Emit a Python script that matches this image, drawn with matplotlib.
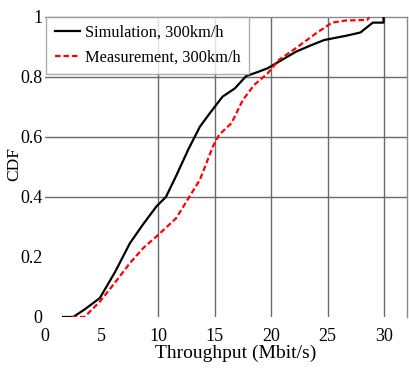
import matplotlib
matplotlib.use("Agg")
import matplotlib.pyplot as plt

plt.rcParams['font.family'] = ['Liberation Serif', 'DejaVu Serif']

sim_x = [1.6, 2.5, 3.5, 4.85, 6.2, 7.5, 8.7, 9.85, 10.7, 11.6, 12.7, 13.7, 14.6, 15.7,
         16.8, 17.8, 18.8, 19.7, 20.7, 22.2, 23.5, 24.7, 26.6, 27.9, 29.0, 29.95, 29.95]
sim_y = [0.0, 0.0, 0.025, 0.063, 0.15, 0.245, 0.31, 0.368, 0.40, 0.47, 0.56, 0.634, 0.68, 0.734,
         0.762, 0.803, 0.816, 0.829, 0.851, 0.884, 0.905, 0.923, 0.937, 0.948, 0.981, 0.981, 1.0]

meas_x = [2.35, 3.5, 4.85, 6.2, 7.5, 8.7, 10.0, 11.6, 12.6, 13.7, 14.85, 15.4, 16.5, 17.5,
          18.5, 19.7, 20.7, 22.2, 24.0, 25.4, 26.6, 28.5, 28.7]
meas_y = [0.0, 0.0, 0.051, 0.115, 0.179, 0.23, 0.273, 0.329, 0.39, 0.457, 0.568, 0.607, 0.646, 0.723,
          0.773, 0.812, 0.857, 0.896, 0.946, 0.981, 0.988, 0.99, 1.0]

x_ticks = [0, 5, 10, 15, 20, 25, 30]
y_ticks = [0, 0.2, 0.4, 0.6, 0.8, 1]
y_tick_labels = ['0', '0.2', '0.4', '0.6', '0.8', '1']
x_grid = [10, 15, 20, 25, 30]
y_grid = [0.4, 0.6, 0.8]

fig = plt.figure(figsize=(4.09, 3.76), dpi=100)
ax = fig.add_axes([0.110, 0.157, 0.8844, 0.798])

for gx in x_grid:
    ax.axvline(gx, color='#6a6a6a', lw=1.0, zorder=1)
for gy in y_grid:
    ax.axhline(gy, color='#6a6a6a', lw=1.0, zorder=1)

ax.plot(sim_x, sim_y, color='black', lw=1.6, label='Simulation, 300km/h', zorder=3)
ax.plot(meas_x, meas_y, color='#ff0000', lw=1.6, ls=(0, (2.5, 1.3)),
        label='Measurement, 300km/h', zorder=3)

ax.set_xlim(0, 32)
ax.set_ylim(0, 1)
ax.set_xticks(x_ticks)
ax.set_xticklabels([str(v) for v in x_ticks])
ax.set_yticks(y_ticks)
ax.set_yticklabels(y_tick_labels)
ax.tick_params(axis='both', length=0, labelsize=13, colors='black')
ax.tick_params(axis='x', pad=8)
ax.tick_params(axis='y', pad=2)

for s in ['left', 'bottom']:
    ax.spines[s].set_visible(False)
for s in ['top', 'right']:
    ax.spines[s].set_color('#8a8a8a')
    ax.spines[s].set_linewidth(1.0)

ax.set_xlabel('Throughput (Mbit/s)', fontsize=14)
ax.xaxis.set_label_coords(0.528, -0.093, transform=ax.transAxes)
ax.xaxis.label.set_va('top')
ax.set_ylabel('CDF', fontsize=12.5)
ax.yaxis.set_label_coords(-0.085, 0.51, transform=ax.transAxes)
ax.yaxis.label.set_va('center')

leg = ax.legend(loc='upper left', bbox_to_anchor=(0.004, 1.0), borderaxespad=0,
                fontsize=11.8, frameon=True, fancybox=False, handlelength=1.55,
                handletextpad=0.3, borderpad=0.5, labelspacing=0.5)
leg.get_frame().set_edgecolor('#9a9a9a')
leg.get_frame().set_linewidth(1.0)
leg.set_zorder(5)

fig.savefig('out.png', dpi=100)
